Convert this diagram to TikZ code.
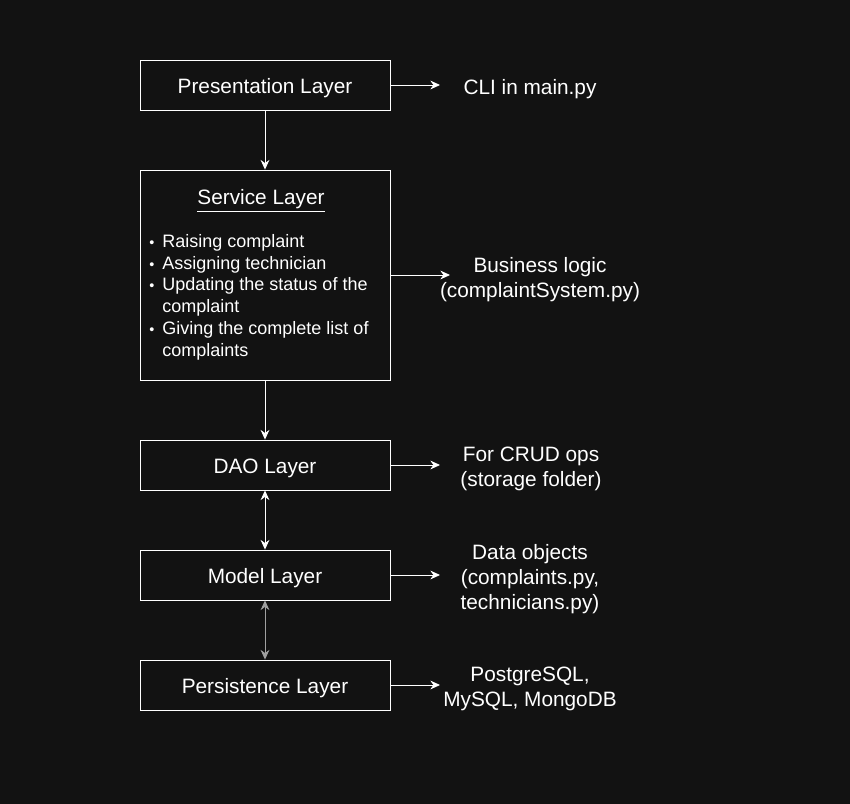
\documentclass[tikz,border=0pt]{standalone}
\usepackage{fontspec}
\setmainfont{Liberation Sans}
\usetikzlibrary{arrows.meta,positioning}
\definecolor{bgdark}{HTML}{121212}
\definecolor{greyarc}{HTML}{A0A0A0}
\newcommand{\lbul}{\makebox[0.26cm][l]{\scalebox{0.8}{\textbullet}}}

\begin{document}
\begin{tikzpicture}[x=0.02cm,y=-0.02cm]
    \tikzset{
        layer/.style={draw=white, line width=0.5pt, text=white, minimum width=5cm, minimum height=1cm, inner sep=0pt, text height=14pt, text depth=3.8pt, font=\fontsize{11.84}{14.2}\selectfont},
        note/.style={text=white, align=center, inner sep=0pt, font=\fontsize{11.84}{14.2}\selectfont},
        arc/.style={-{Stealth[length=5.5pt,width=5pt]}, white, line width=0.5pt},
        biarc/.style={{Stealth[length=5.5pt,width=5pt]}-{Stealth[length=5.5pt,width=5pt]}, white, line width=0.5pt}
    }
    \fill[bgdark] (0,0) rectangle (850,804);
    \useasboundingbox (0,0) rectangle (850,804);

    \node[layer] (pres) at (265,85) {Presentation Layer};
    \node[layer, minimum height=4.2cm] (srv) at (265,275) {};
    \node[note] (srvtitle) at (261,201) {\underline{Service Layer}};
    \node[note, align=left, anchor=north west, font=\fontsize{10.25}{12.4}\selectfont] (srvlist) at (149,234) {%
        \lbul Raising complaint\\
        \lbul Assigning technician\\
        \lbul Updating the status of the\\
        \hspace{0.26cm}complaint\\
        \lbul Giving the complete list of\\
        \hspace{0.26cm}complaints};
    \node[layer] (dao) at (265,465) {DAO Layer};
    \node[layer] (model) at (265,575) {Model Layer};
    \node[layer] (pers) at (265,685) {Persistence Layer};

    % notes on the right
    \node[note] (cli) at (530,89) {CLI in main.py};
    \node[note] (logic) at (540,279.5) {Business logic\\(complaintSystem.py)};
    \node[note] (crud) at (531,469) {For CRUD ops\\(storage folder)};
    \node[note] (data) at (530,579) {Data objects\\(complaints.py,\\technicians.py)};
    \node[note] (db) at (530,689) {PostgreSQL,\\MySQL, MongoDB};

    \coordinate (presend) at (440,85);
    \coordinate (srvend) at (450,275);
    \coordinate (daoend) at (440,465);
    \coordinate (modelend) at (440,575);
    \coordinate (persend) at (440,685);

    \draw[arc] (pres) -- (srv);
    \draw[arc] (srv) -- (dao);
    \draw[biarc] (dao) -- (model);
    \draw[biarc, greyarc] (model) -- (pers);

    \draw[arc] (pres.east) -- (presend);
    \draw[arc] (srv.east |- srvend) -- (srvend);
    \draw[arc] (dao.east) -- (daoend);
    \draw[arc] (model.east) -- (modelend);
    \draw[arc] (pers.east) -- (persend);
\end{tikzpicture}
\end{document}
